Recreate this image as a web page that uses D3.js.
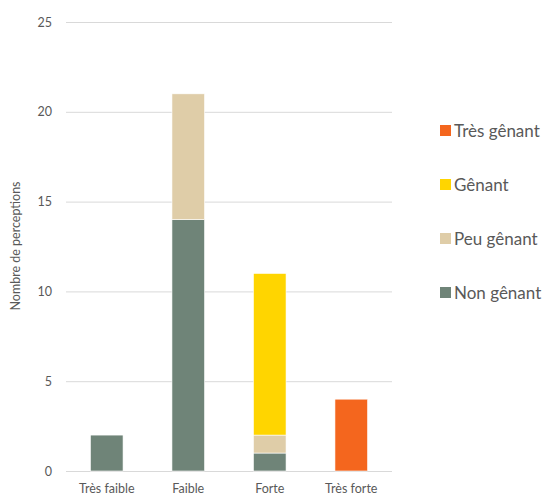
<!DOCTYPE html>
<html>
<head>
<meta charset="utf-8">
<script src="https://cdn.jsdelivr.net/npm/d3@7"></script>
<style>
body { margin: 0; background: #fff; }
svg text { font-family: Lato, "Open Sans", sans-serif; fill: #595959; }
</style>
</head>
<body>
<div id="chart"></div>
<script>
var width = 549, height = 500;

var categories = ["Très faible", "Faible", "Forte", "Très forte"];
var series = ["Non gênant", "Peu gênant", "Gênant", "Très gênant"];
var nonGenant = [2, 14, 1, 0];
var peuGenant = [0, 7, 1, 0];
var genant = [0, 0, 9, 0];
var tresGenant = [0, 0, 0, 4];
var yTicks = [0, 5, 10, 15, 20, 25];
var colors = ["#6f8478", "#dfcda8", "#ffd500", "#f4661e"];

var rows = categories.map(function(c, i) {
  return { cat: c, "Non gênant": nonGenant[i], "Peu gênant": peuGenant[i], "Gênant": genant[i], "Très gênant": tresGenant[i] };
});

var svg = d3.select("#chart").append("svg").attr("width", width).attr("height", height);

var x = d3.scaleBand().domain(categories).range([66, 392]).paddingInner(0.6).paddingOuter(0.3);
var y = d3.scaleLinear().domain([0, 25]).range([471, 22]);
var color = d3.scaleOrdinal().domain(series).range(colors);

// gridlines
svg.append("g").selectAll("line").data(yTicks).enter().append("line")
  .attr("x1", 66).attr("x2", 392)
  .attr("y1", function(d) { return y(d) + 0.5; }).attr("y2", function(d) { return y(d) + 0.5; })
  .attr("stroke", "#d9d9d9").attr("stroke-width", 1);

svg.append("g").selectAll("text").data(yTicks).enter().append("text")
  .attr("x", 52).attr("y", function(d) { return y(d) + 4.5; })
  .attr("text-anchor", "end").attr("font-size", 12.5).text(function(d) { return d; });

var stacked = d3.stack().keys(series)(rows);

svg.append("g").selectAll("g").data(stacked).enter().append("g")
  .attr("fill", function(d) { return color(d.key); })
  .selectAll("rect").data(function(d) { return d.filter(function(p) { return p[1] > p[0]; }); })
  .enter().append("rect")
  .attr("x", function(d) { return x(d.data.cat); })
  .attr("y", function(d) { return y(d[1]); })
  .attr("width", x.bandwidth())
  .attr("height", function(d) { return y(d[0]) - y(d[1]); })
  .attr("stroke", "#fff").attr("stroke-width", 0.6);

svg.append("g").selectAll("text").data(categories).enter().append("text")
  .attr("x", function(d) { return x(d) + x.bandwidth() / 2; })
  .attr("y", 493).attr("text-anchor", "middle").attr("font-size", 12.5)
  .text(function(d) { return d; });

svg.append("text")
  .attr("transform", "translate(20,246) rotate(-90)")
  .attr("text-anchor", "middle").attr("font-size", 12.5)
  .text("Nombre de perceptions");

// legend, top to bottom in reverse stack order
var legend = svg.append("g").selectAll("g").data(series.slice().reverse()).enter().append("g")
  .attr("transform", function(d, i) { return "translate(440," + (131 + i * 54) + ")"; });
legend.append("rect").attr("x", 0).attr("y", -6).attr("width", 11).attr("height", 11)
  .attr("fill", function(d) { return color(d); });
legend.append("text").attr("x", 14).attr("y", 5.5).attr("font-size", 17).text(function(d) { return d; });
</script>
</body>
</html>
